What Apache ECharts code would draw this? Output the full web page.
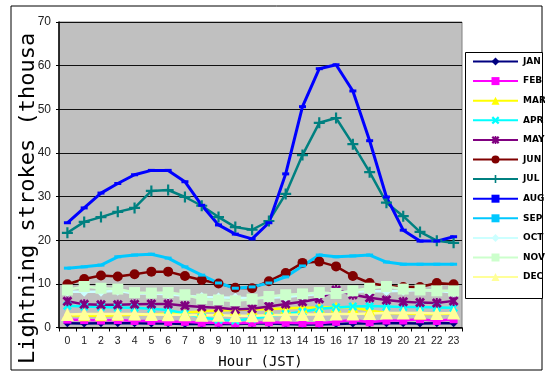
<!DOCTYPE html>
<html>
<head>
<meta charset="utf-8">
<script src="https://cdn.jsdelivr.net/npm/echarts@6/dist/echarts.min.js"></script>
<style>html,body{margin:0;padding:0;background:#fff;}#c{width:545px;height:375px;}</style>
</head>
<body>
<div id="c"></div>
<script>
var hours = ['0','1','2','3','4','5','6','7','8','9','10','11','12','13','14','15','16','17','18','19','20','21','22','23'];
var yTicks = [0,10,20,30,40,50,60,70];
var monthNames = ['JAN','FEB','MAR','APR','MAY','JUN','JUL','AUG','SEP','OCT','NOV','DEC'];

var JAN = [1.0,0.9,1.0,1.0,1.0,0.9,0.9,0.8,0.8,0.8,0.8,0.9,0.9,0.8,0.7,0.7,0.8,0.9,0.9,1.0,1.0,0.9,1.0,1.0];
var FEB = [1.8,1.7,1.6,1.7,1.5,1.5,1.3,1.3,1.1,1.1,1.0,1.1,1.2,1.1,1.0,1.0,1.3,1.7,1.2,1.6,1.6,1.9,1.5,1.9];
var MAR = [2.8,2.7,2.7,2.8,2.9,3.0,3.2,3.4,3.7,3.9,4.0,4.1,4.2,4.4,4.5,4.6,4.7,4.6,3.9,3.3,3.2,3.1,3.1,3.2];
var APR = [5.0,4.8,4.7,4.6,4.5,4.3,4.0,3.2,2.3,1.8,1.6,2.0,2.6,3.1,3.6,4.3,4.6,4.8,4.9,4.8,4.7,4.7,4.6,4.5];
var MAY = [6.0,5.3,5.2,5.2,5.3,5.4,5.4,5.0,4.7,4.5,4.1,4.3,4.8,5.4,5.9,6.6,8.6,7.5,6.8,6.3,5.9,5.7,5.6,6.1];
var JUN = [9.9,11.1,11.9,11.7,12.2,12.8,12.8,11.8,10.9,10.1,9.1,9.0,10.6,12.5,14.8,15.1,14.0,11.8,10.2,9.5,9.3,9.3,10.2,9.9];
var JUL = [21.7,24.2,25.3,26.5,27.4,31.3,31.5,29.9,27.9,25.3,23.0,22.4,24.4,30.6,39.5,46.9,48.0,42.0,35.6,28.6,25.5,21.9,19.9,19.4];
var AUG = [24.0,27.4,30.8,33.0,35.0,36.0,36.0,33.4,28.0,23.5,21.4,20.3,24.0,35.2,50.6,59.3,60.2,54.2,42.8,29.9,22.3,19.8,19.8,20.8];
var SEP = [13.6,13.9,14.3,16.2,16.6,16.8,15.9,13.9,12.0,10.2,9.0,9.3,10.2,11.6,14.1,16.6,16.2,16.4,16.6,15.0,14.5,14.5,14.5,14.5];
var OCT = [8.2,8.2,8.2,8.4,7.8,7.8,7.6,7.3,7.0,6.9,6.8,6.7,6.8,7.0,7.4,7.6,8.0,8.2,8.3,8.3,8.4,8.6,8.4,8.0];
var NOV = [8.6,9.4,9.0,8.8,8.0,7.9,8.0,7.5,6.5,6.3,6.1,6.5,7.1,7.5,7.7,8.0,7.8,8.4,9.0,9.4,8.8,8.6,8.4,8.4];
var DEC = [3.0,3.1,3.1,3.1,3.1,3.0,2.9,2.9,2.8,2.8,2.7,2.7,2.8,2.9,3.0,3.0,3.1,3.1,3.2,3.3,3.3,3.3,3.2,3.3];

var allData = [JAN,FEB,MAR,APR,MAY,JUN,JUL,AUG,SEP,OCT,NOV,DEC];

var X_PATH = 'path://M0,2 L2,0 L5,3 L8,0 L10,2 L7,5 L10,8 L8,10 L5,7 L2,10 L0,8 L3,5 Z';
var PLUS_PATH = 'path://M4,0 H6 V4 H10 V6 H6 V10 H4 V6 H0 V4 H4 Z';
var AST_PATH = 'path://M0,2 L2,0 L5,3 L8,0 L10,2 L7,5 L10,8 L8,10 L5,7 L2,10 L0,8 L3,5 Z M4,0 H6 V10 H4 Z';

var styles = [
  {color:'#000080', symbol:'diamond', size:8, lw:2.5},
  {color:'#ff00ff', symbol:'rect', size:8, lw:2.5},
  {color:'#ffff00', symbol:'triangle', size:11, lw:2.5},
  {color:'#00ffff', symbol:X_PATH, size:9, lw:2.5},
  {color:'#800080', symbol:AST_PATH, size:10, lw:2.5},
  {color:'#800000', symbol:'circle', size:10, lw:2.5},
  {color:'#008080', symbol:PLUS_PATH, size:11, lw:2.5},
  {color:'#0000ff', symbol:'rect', size:[7,3], lw:3},
  {color:'#00c8ff', symbol:'rect', size:[7,3], lw:3},
  {color:'#ccffff', symbol:'diamond', size:10, lw:2.5},
  {color:'#ccffcc', symbol:'rect', size:11, lw:2.5},
  {color:'#ffff99', symbol:'triangle', size:13, lw:2.5}
];

var series = monthNames.map(function(name, i){
  var s = styles[i];
  return {
    name: name,
    type: 'line',
    data: allData[i],
    symbol: s.symbol,
    symbolSize: s.size,
    showAllSymbol: true,
    lineStyle: {color: s.color, width: s.lw},
    itemStyle: {color: s.color, borderWidth: 0},
    animation: false
  };
});

var chart = echarts.init(document.getElementById('c'));
chart.setOption({
  animation: false,
  backgroundColor: '#ffffff',
  graphic: [
    {type:'rect', shape:{x:11, y:6, width:531, height:364}, style:{fill:'none', stroke:'#000', lineWidth:1}, z:-10},
    {type:'rect', shape:{x:465.5, y:52.5, width:77, height:246}, style:{fill:'#fff', stroke:'#000', lineWidth:1}, z:-5},
    {type:'text', x:28, y:364, rotation: Math.PI/2,
     style:{text:'Lightning strokes (thousands)', font:'22px "DejaVu Sans Mono"', fill:'#000',
            textAlign:'left', textVerticalAlign:'middle', width:336, overflow:'truncate', ellipsis:''}}
  ],
  grid: {left:59, top:22, width:403, height:305.5, show:true, backgroundColor:'#c0c0c0', borderColor:'#808080', borderWidth:1},
  legend: {
    orient:'vertical', left:472, top:57, itemWidth:45, itemHeight:10, itemGap:10.6, padding:0,
    data: monthNames,
    textStyle:{fontSize:9, fontWeight:'bold', color:'#000', fontFamily:'"DejaVu Sans"'}
  },
  xAxis: {
    type:'category', data: hours, boundaryGap:true,
    name:'Hour (JST)', nameLocation:'middle', nameGap:28,
    nameTextStyle:{fontSize:14, color:'#000', fontFamily:'"DejaVu Sans Mono"'},
    axisLine:{lineStyle:{color:'#000', width:1.5}},
    axisTick:{show:true, length:4, lineStyle:{color:'#000'}},
    axisLabel:{fontSize:10.5, color:'#222', margin:8, fontFamily:'"Liberation Sans"', interval:0},
    splitLine:{show:false}
  },
  yAxis: {
    type:'value', min:yTicks[0], max:yTicks[yTicks.length-1], interval:10,
    axisLine:{show:true, lineStyle:{color:'#000', width:1.5}},
    axisTick:{show:true, length:3, lineStyle:{color:'#000'}},
    axisLabel:{fontSize:12, color:'#222', margin:8, fontFamily:'"Liberation Sans"'},
    splitLine:{show:true, lineStyle:{color:'#111', width:1}}
  },
  series: series
});
</script>
</body>
</html>
